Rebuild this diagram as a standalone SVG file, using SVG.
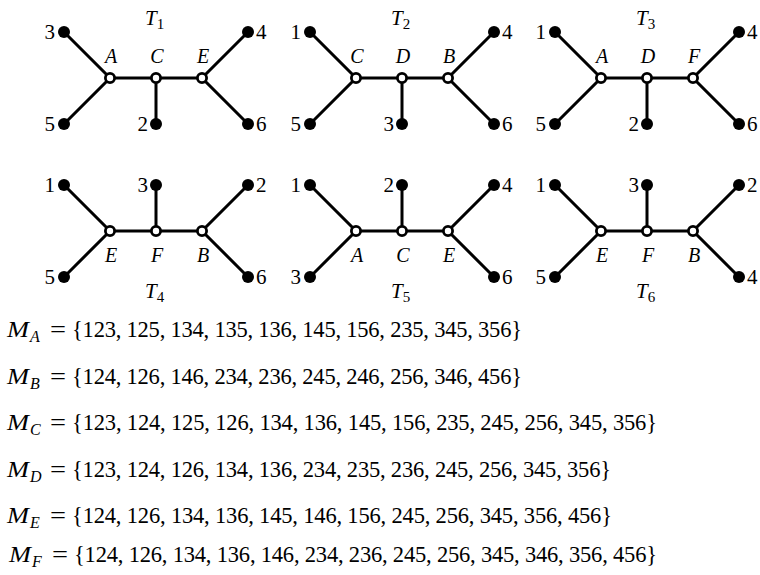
<svg xmlns="http://www.w3.org/2000/svg" width="760" height="575" viewBox="0 0 760 575">
<style>
.e{stroke:#000;stroke-width:3;fill:none;stroke-linecap:round}
.leaf{fill:#000}
.in{fill:#fff;stroke:#000;stroke-width:2.8}
text{font-family:'Liberation Serif','Times New Roman','DejaVu Serif','Noto Serif',serif;fill:#000}
.num{font-size:21px}
.lab{font-style:italic;font-size:20px;text-anchor:middle}
.ttl{font-style:italic;font-size:21px}
.sub{font-style:normal;font-size:15px}
.fm{font-size:22.5px}
.it{font-style:italic}
.fs{font-style:italic;font-size:16px}
</style>
<rect width="760" height="575" fill="#fff"/>
<g id="connectors">
<path class="e" d="M64,32 L110,78 L64,124 M110,78 L202,78 M156,78 L156,124 M248,32 L202,78 L248,124"/>
<path class="e" d="M310,32 L356,78 L310,124 M356,78 L448,78 M402,78 L402,124 M494,32 L448,78 L494,124"/>
<path class="e" d="M555,32 L601,78 L555,124 M601,78 L693,78 M647,78 L647,124 M739,32 L693,78 L739,124"/>
<path class="e" d="M64,185 L110,231 L64,277 M110,231 L202,231 M156,231 L156,185 M248,185 L202,231 L248,277"/>
<path class="e" d="M310,185 L356,231 L310,277 M356,231 L448,231 M402,231 L402,185 M494,185 L448,231 L494,277"/>
<path class="e" d="M555,185 L601,231 L555,277 M601,231 L693,231 M647,231 L647,185 M739,185 L693,231 L739,277"/>
</g>
<g id="T1">
<text class="ttl" x="145" y="25">T<tspan class="sub" dy="4">1</tspan></text>
<circle class="leaf" cx="64" cy="32" r="6"/><circle class="leaf" cx="64" cy="124" r="6"/>
<circle class="leaf" cx="248" cy="32" r="6"/><circle class="leaf" cx="248" cy="124" r="6"/>
<circle class="leaf" cx="156" cy="124" r="6"/>
<circle class="in" cx="110" cy="78" r="4.6"/><circle class="in" cx="156" cy="78" r="4.6"/><circle class="in" cx="202" cy="78" r="4.6"/>
<text class="num" x="55" y="39" text-anchor="end">3</text>
<text class="num" x="55" y="131" text-anchor="end">5</text>
<text class="num" x="256" y="39">4</text>
<text class="num" x="256" y="131">6</text>
<text class="num" x="148" y="131" text-anchor="end">2</text>
<text class="lab" x="111" y="63">A</text><text class="lab" x="157" y="63">C</text><text class="lab" x="203" y="63">E</text>
</g>
<g id="T2">
<text class="ttl" x="391" y="25">T<tspan class="sub" dy="4">2</tspan></text>
<circle class="leaf" cx="310" cy="32" r="6"/><circle class="leaf" cx="310" cy="124" r="6"/>
<circle class="leaf" cx="494" cy="32" r="6"/><circle class="leaf" cx="494" cy="124" r="6"/>
<circle class="leaf" cx="402" cy="124" r="6"/>
<circle class="in" cx="356" cy="78" r="4.6"/><circle class="in" cx="402" cy="78" r="4.6"/><circle class="in" cx="448" cy="78" r="4.6"/>
<text class="num" x="301" y="39" text-anchor="end">1</text>
<text class="num" x="301" y="131" text-anchor="end">5</text>
<text class="num" x="502" y="39">4</text>
<text class="num" x="502" y="131">6</text>
<text class="num" x="394" y="131" text-anchor="end">3</text>
<text class="lab" x="357" y="63">C</text><text class="lab" x="403" y="63">D</text><text class="lab" x="449" y="63">B</text>
</g>
<g id="T3">
<text class="ttl" x="636" y="25">T<tspan class="sub" dy="4">3</tspan></text>
<circle class="leaf" cx="555" cy="32" r="6"/><circle class="leaf" cx="555" cy="124" r="6"/>
<circle class="leaf" cx="739" cy="32" r="6"/><circle class="leaf" cx="739" cy="124" r="6"/>
<circle class="leaf" cx="647" cy="124" r="6"/>
<circle class="in" cx="601" cy="78" r="4.6"/><circle class="in" cx="647" cy="78" r="4.6"/><circle class="in" cx="693" cy="78" r="4.6"/>
<text class="num" x="546" y="39" text-anchor="end">1</text>
<text class="num" x="546" y="131" text-anchor="end">5</text>
<text class="num" x="747" y="39">4</text>
<text class="num" x="747" y="131">6</text>
<text class="num" x="639" y="131" text-anchor="end">2</text>
<text class="lab" x="602" y="63">A</text><text class="lab" x="648" y="63">D</text><text class="lab" x="694" y="63">F</text>
</g>
<g id="T4">
<text class="ttl" x="145" y="298">T<tspan class="sub" dy="4">4</tspan></text>
<circle class="leaf" cx="64" cy="185" r="6"/><circle class="leaf" cx="64" cy="277" r="6"/>
<circle class="leaf" cx="248" cy="185" r="6"/><circle class="leaf" cx="248" cy="277" r="6"/>
<circle class="leaf" cx="156" cy="185" r="6"/>
<circle class="in" cx="110" cy="231" r="4.6"/><circle class="in" cx="156" cy="231" r="4.6"/><circle class="in" cx="202" cy="231" r="4.6"/>
<text class="num" x="55" y="192" text-anchor="end">1</text>
<text class="num" x="55" y="284" text-anchor="end">5</text>
<text class="num" x="256" y="192">2</text>
<text class="num" x="256" y="284">6</text>
<text class="num" x="148" y="192" text-anchor="end">3</text>
<text class="lab" x="111" y="262">E</text><text class="lab" x="157" y="262">F</text><text class="lab" x="203" y="262">B</text>
</g>
<g id="T5">
<text class="ttl" x="391" y="298">T<tspan class="sub" dy="4">5</tspan></text>
<circle class="leaf" cx="310" cy="185" r="6"/><circle class="leaf" cx="310" cy="277" r="6"/>
<circle class="leaf" cx="494" cy="185" r="6"/><circle class="leaf" cx="494" cy="277" r="6"/>
<circle class="leaf" cx="402" cy="185" r="6"/>
<circle class="in" cx="356" cy="231" r="4.6"/><circle class="in" cx="402" cy="231" r="4.6"/><circle class="in" cx="448" cy="231" r="4.6"/>
<text class="num" x="301" y="192" text-anchor="end">1</text>
<text class="num" x="301" y="284" text-anchor="end">3</text>
<text class="num" x="502" y="192">4</text>
<text class="num" x="502" y="284">6</text>
<text class="num" x="394" y="192" text-anchor="end">2</text>
<text class="lab" x="357" y="262">A</text><text class="lab" x="403" y="262">C</text><text class="lab" x="449" y="262">E</text>
</g>
<g id="T6">
<text class="ttl" x="636" y="298">T<tspan class="sub" dy="4">6</tspan></text>
<circle class="leaf" cx="555" cy="185" r="6"/><circle class="leaf" cx="555" cy="277" r="6"/>
<circle class="leaf" cx="739" cy="185" r="6"/><circle class="leaf" cx="739" cy="277" r="6"/>
<circle class="leaf" cx="647" cy="185" r="6"/>
<circle class="in" cx="601" cy="231" r="4.6"/><circle class="in" cx="647" cy="231" r="4.6"/><circle class="in" cx="693" cy="231" r="4.6"/>
<text class="num" x="546" y="192" text-anchor="end">1</text>
<text class="num" x="546" y="284" text-anchor="end">5</text>
<text class="num" x="747" y="192">2</text>
<text class="num" x="747" y="284">4</text>
<text class="num" x="639" y="192" text-anchor="end">3</text>
<text class="lab" x="602" y="262">E</text><text class="lab" x="648" y="262">F</text><text class="lab" x="694" y="262">B</text>
</g>
<g id="sets">
<text class="fm it" x="7" y="337" textLength="22" lengthAdjust="spacingAndGlyphs">M</text>
<text class="fs" x="30" y="342">A</text>
<text class="fm" x="50" y="337" textLength="16" lengthAdjust="spacingAndGlyphs">=</text>
<text class="fm" x="72" y="337" textLength="450" lengthAdjust="spacing">{123, 125, 134, 135, 136, 145, 156, 235, 345, 356}</text>
<text class="fm it" x="7" y="384" textLength="22" lengthAdjust="spacingAndGlyphs">M</text>
<text class="fs" x="30" y="389">B</text>
<text class="fm" x="50" y="384" textLength="16" lengthAdjust="spacingAndGlyphs">=</text>
<text class="fm" x="72" y="384" textLength="450" lengthAdjust="spacing">{124, 126, 146, 234, 236, 245, 246, 256, 346, 456}</text>
<text class="fm it" x="7" y="430" textLength="22" lengthAdjust="spacingAndGlyphs">M</text>
<text class="fs" x="30" y="435">C</text>
<text class="fm" x="50" y="430" textLength="16" lengthAdjust="spacingAndGlyphs">=</text>
<text class="fm" x="72" y="430" textLength="585" lengthAdjust="spacing">{123, 124, 125, 126, 134, 136, 145, 156, 235, 245, 256, 345, 356}</text>
<text class="fm it" x="7" y="477" textLength="22" lengthAdjust="spacingAndGlyphs">M</text>
<text class="fs" x="30" y="482">D</text>
<text class="fm" x="50" y="477" textLength="16" lengthAdjust="spacingAndGlyphs">=</text>
<text class="fm" x="72" y="477" textLength="539" lengthAdjust="spacing">{123, 124, 126, 134, 136, 234, 235, 236, 245, 256, 345, 356}</text>
<text class="fm it" x="7" y="523" textLength="22" lengthAdjust="spacingAndGlyphs">M</text>
<text class="fs" x="30" y="528">E</text>
<text class="fm" x="50" y="523" textLength="16" lengthAdjust="spacingAndGlyphs">=</text>
<text class="fm" x="72" y="523" textLength="540" lengthAdjust="spacing">{124, 126, 134, 136, 145, 146, 156, 245, 256, 345, 356, 456}</text>
<text class="fm it" x="9" y="562" textLength="22" lengthAdjust="spacingAndGlyphs">M</text>
<text class="fs" x="32" y="567">F</text>
<text class="fm" x="52" y="562" textLength="16" lengthAdjust="spacingAndGlyphs">=</text>
<text class="fm" x="74" y="562" textLength="583" lengthAdjust="spacing">{124, 126, 134, 136, 146, 234, 236, 245, 256, 345, 346, 356, 456}</text>
</g>
</svg>
